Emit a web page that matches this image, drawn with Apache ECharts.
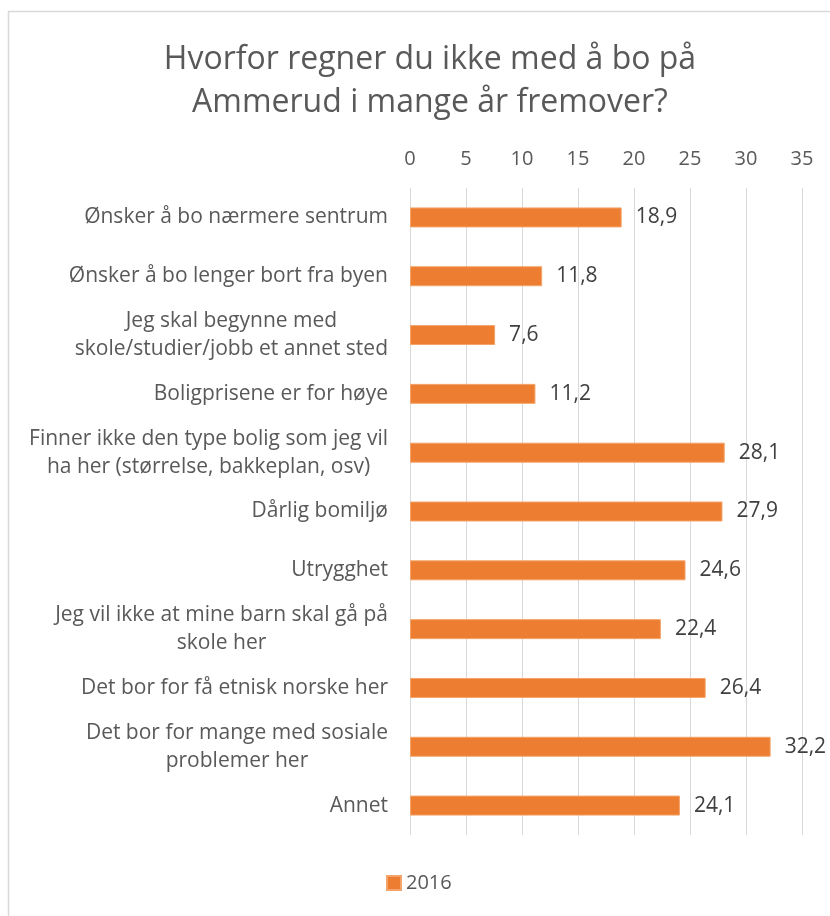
<!DOCTYPE html>
<html>
<head>
<meta charset="utf-8">
<script src="https://cdn.jsdelivr.net/npm/echarts@6/dist/echarts.min.js"></script>
<style>
  html, body { margin: 0; padding: 0; background: #fff; }
  #chart { width: 830px; height: 916px; }
</style>
</head>
<body>
<div id="chart"></div>
<script>
const categories = [
  'Ønsker å bo nærmere sentrum',
  'Ønsker å bo lenger bort fra byen',
  'Jeg skal begynne med\nskole/studier/jobb et annet sted',
  'Boligprisene er for høye',
  'Finner ikke den type bolig som jeg vil\nha her (størrelse, bakkeplan, osv)',
  'Dårlig bomiljø',
  'Utrygghet',
  'Jeg vil ikke at mine barn skal gå på\nskole her',
  'Det bor for få etnisk norske her',
  'Det bor for mange med sosiale\nproblemer her',
  'Annet'
]
const values2016 = [18.9, 11.8, 7.6, 11.2, 28.1, 27.9, 24.6, 22.4, 26.4, 32.2, 24.1]
const seriesName = '2016'

const FONT = 'Open Sans'
const LABEL_SIZE = 21

// multi-line labels are centred inside a right-aligned block (like Excel)
const ctx = document.createElement('canvas').getContext('2d')
ctx.font = LABEL_SIZE + 'px "' + FONT + '"'
function catItem(text){
  const lines = text.split('\n')
  if(lines.length === 1) return text
  const w = Math.max(...lines.map(l => ctx.measureText(l).width))
  return { value: text, textStyle: { align: 'center', padding: [0, w, 0, 0] } }
}

const chart = echarts.init(document.getElementById('chart'))
chart.setOption({
  backgroundColor: '#fff',
  animation: false,
  textStyle: { fontFamily: FONT },
  graphic: [{
    type: 'rect',
    shape: { x: 8.5, y: 11.5, width: 1000, height: 1000 },
    style: { fill: 'none', stroke: '#d9d9d9', lineWidth: 1.5 },
    silent: true
  }],
  title: {
    text: 'Hvorfor regner du ikke med å bo på\nAmmerud i mange år fremover?',
    left: 425,
    top: 33,
    textAlign: 'center',
    textStyle: { fontFamily: FONT, fontSize: 32, fontWeight: 'normal', color: '#595959', lineHeight: 43 }
  },
  legend: {
    bottom: 18,
    left: 381,
    itemWidth: 14,
    itemHeight: 14,
    itemGap: 6,
    icon: 'rect',
    textStyle: { fontFamily: FONT, fontSize: 20, color: '#595959' },
    data: [seriesName]
  },
  grid: { left: 410, right: 28, top: 188, bottom: 81, containLabel: false },
  xAxis: {
    type: 'value',
    position: 'top',
    min: 0,
    max: 35,
    interval: 5,
    axisLine: { show: false },
    axisTick: { show: false },
    axisLabel: { fontFamily: FONT, fontSize: 20, color: '#595959', margin: 19 },
    splitLine: { show: true, lineStyle: { color: '#d9d9d9', width: 1 } }
  },
  yAxis: {
    type: 'category',
    inverse: true,
    data: categories.map(catItem),
    axisLine: { show: false },
    axisTick: { show: false },
    axisLabel: { fontFamily: FONT, fontSize: LABEL_SIZE, color: '#595959', margin: 22, lineHeight: 28, interval: 0 }
  },
  series: [{
    name: seriesName,
    type: 'bar',
    data: values2016,
    barWidth: 20,
    itemStyle: { color: '#ed7d31', borderColor: '#f4a46a', borderWidth: 1 },
    label: {
      show: true,
      position: 'right',
      distance: 14,
      fontFamily: FONT,
      fontSize: 21,
      color: '#404040',
      formatter: p => String(p.value).replace('.', ',')
    }
  }]
})
</script>
</body>
</html>
